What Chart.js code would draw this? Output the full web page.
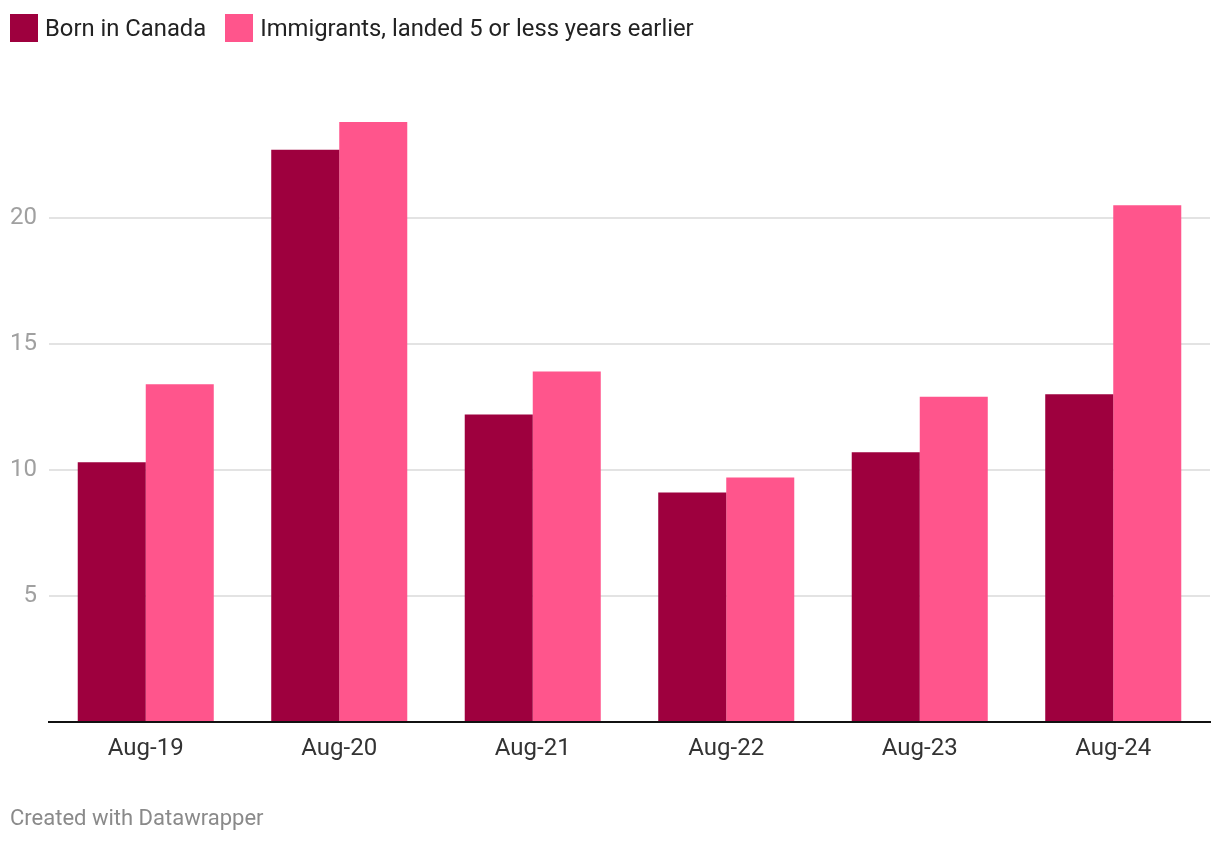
<!DOCTYPE html>
<html>
<head>
<meta charset="utf-8">
<script src="https://cdn.jsdelivr.net/npm/chart.js@4/dist/chart.umd.min.js"></script>
<style>
  html, body { margin: 0; padding: 0; background: #fff; }
  body { width: 1220px; height: 844px; position: relative; overflow: hidden; font-family: Roboto, "Noto Sans", sans-serif; }
  #wrap { position: absolute; left: 0; top: 0; width: 1220px; height: 844px; }
  .legend { position: absolute; left: 10px; top: 14px; display: flex; align-items: center; font-size: 23.8px; color: #222; }
  .legend .item { display: flex; align-items: center; margin-right: 19px; }
  .legend .sw { width: 28px; height: 28px; margin-right: 7px; }
  .footer { position: absolute; left: 10px; top: 805px; font-size: 22px; color: #8a8a8a; }
</style>
</head>
<body>
<div id="wrap"><canvas id="c" width="1220" height="844"></canvas></div>
<div class="legend" id="legend"></div>
<div class="footer">Created with Datawrapper</div>
<script>
const categories = ["Aug-19", "Aug-20", "Aug-21", "Aug-22", "Aug-23", "Aug-24"];
const seriesNames = ["Born in Canada", "Immigrants, landed 5 or less years earlier"];
const bornInCanada = [10.3, 22.7, 12.2, 9.1, 10.7, 13.0];
const immigrants = [13.4, 23.8, 13.9, 9.7, 12.9, 20.5];
const yTicks = [0, 5, 10, 15, 20];
const colors = ["#9e003e", "#ff558c"];

const legend = document.getElementById('legend');
seriesNames.forEach((n, i) => {
  const it = document.createElement('div'); it.className = 'item';
  const sw = document.createElement('div'); sw.className = 'sw'; sw.style.background = colors[i];
  const tx = document.createElement('span'); tx.textContent = n;
  it.appendChild(sw); it.appendChild(tx); legend.appendChild(it);
});

new Chart(document.getElementById('c'), {
  type: 'bar',
  data: {
    labels: categories,
    datasets: [
      { label: seriesNames[0], data: bornInCanada, backgroundColor: colors[0], borderWidth: 0 },
      { label: seriesNames[1], data: immigrants, backgroundColor: colors[1], borderWidth: 0 }
    ]
  },
  options: {
    responsive: false,
    animation: false,
    devicePixelRatio: 1,
    layout: { padding: { top: 122, left: 11, right: 10, bottom: 0 } },
    plugins: { legend: { display: false }, tooltip: { enabled: false } },
    datasets: { bar: { categoryPercentage: 0.703, barPercentage: 1.0 } },
    scales: {
      x: {
        grid: { display: false, drawTicks: false },
        border: { display: true, color: '#111', width: 2 },
        ticks: { color: '#333', font: { family: 'Roboto', size: 24 }, padding: 13, maxRotation: 0 },
        afterFit: (s) => { s.height = 844 - 722; }
      },
      y: {
        min: 0, max: 23.8,
        afterBuildTicks: (s) => { s.ticks = yTicks.map(v => ({ value: v })); },
        grid: { color: (ctx) => ctx.tick && ctx.tick.value === 0 ? 'rgba(0,0,0,0)' : '#e3e3e3', lineWidth: 2, drawTicks: false },
        border: { display: false },
        ticks: { color: '#a0a0a0', font: { family: 'Roboto', size: 24 }, padding: 12,
                 callback: (v) => v === 0 ? '' : String(v) },
        afterFit: (s) => { s.width = 38; }
      }
    }
  }
});
</script>
</body>
</html>
